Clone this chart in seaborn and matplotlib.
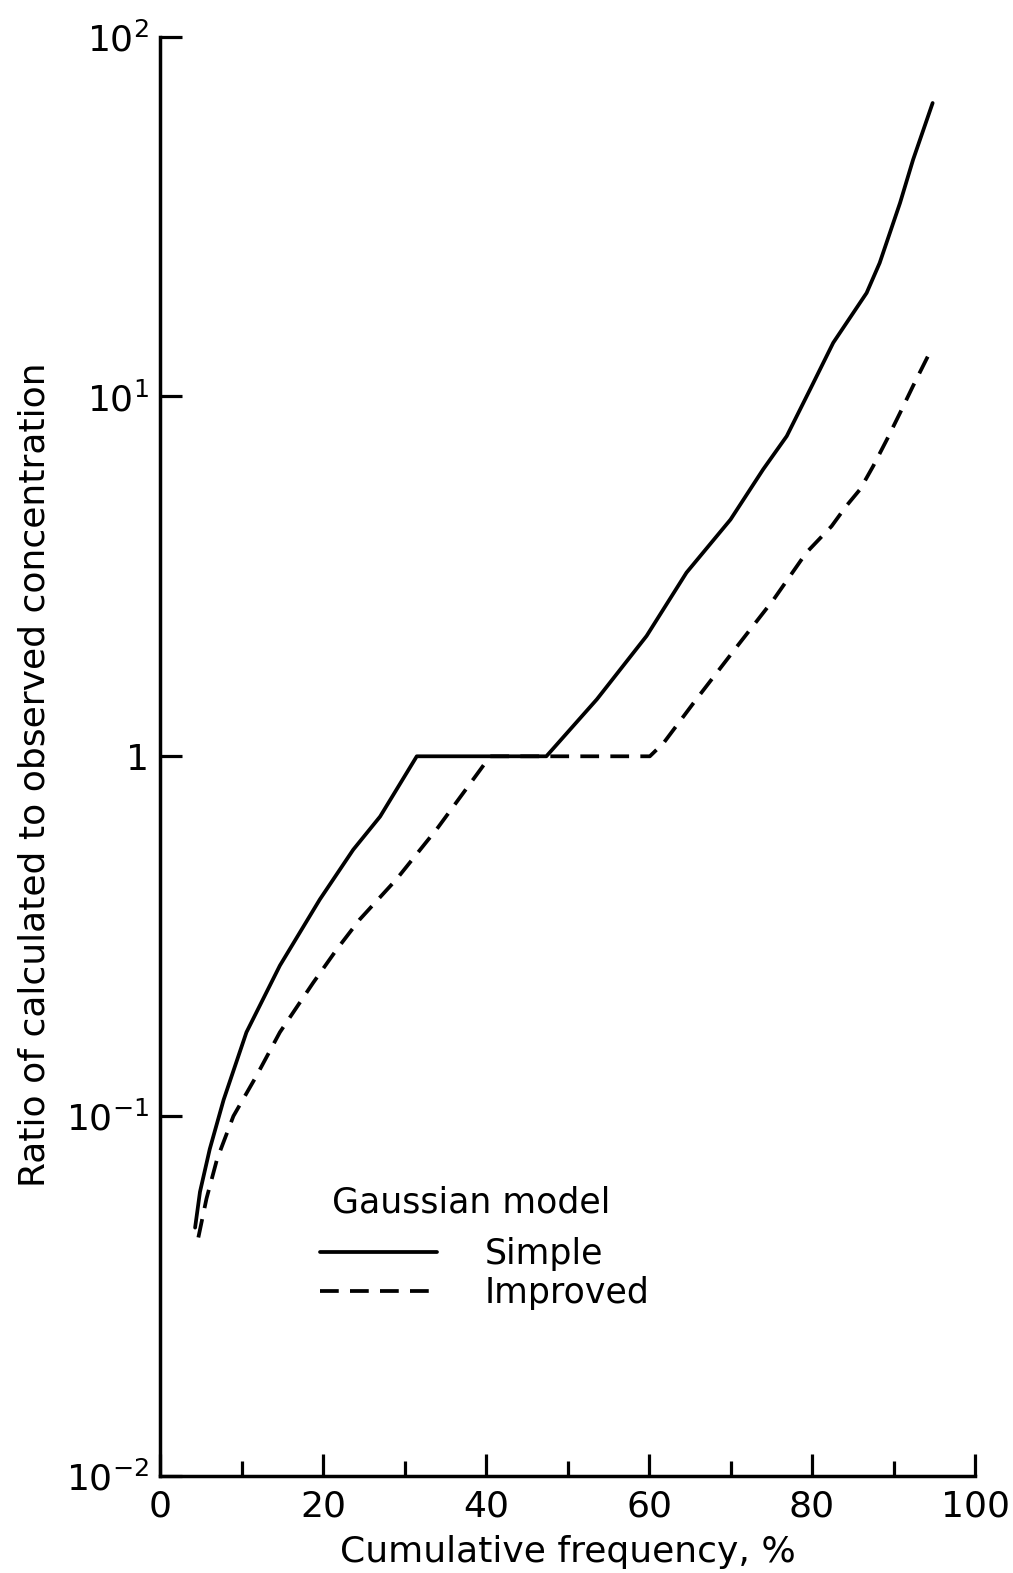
import matplotlib
matplotlib.use("Agg")
import matplotlib.pyplot as plt
import seaborn as sns
import pandas as pd

simple_x = [4.3, 4.9, 6.1, 7.8, 10.6, 14.7, 19.6, 23.7, 27.0, 31.5, 47.4, 53.6, 59.7, 64.6, 70.0,
            74.0, 76.9, 79.8, 82.6, 86.7, 88.3, 90.8, 92.4, 94.8]
simple_y = [0.049, 0.0616, 0.081, 0.111, 0.171, 0.262, 0.40, 0.55, 0.68, 1.0, 1.0, 1.44, 2.16, 3.24, 4.55,
            6.27, 7.76, 10.5, 14.1, 19.4, 23.5, 34.5, 45.5, 65.4]

improved_x = [4.7, 5.7, 7.0, 9.0, 11.8, 14.7, 18.8, 21.7, 24.5, 29.0, 34.1, 40.5, 60.1, 61.8, 65.8,
              70.8, 75.3, 79.3, 82.4, 84.2, 85.9, 87.5, 89.2, 90.8, 92.4, 94.7]
improved_y = [0.046, 0.059, 0.076, 0.10, 0.129, 0.171, 0.235, 0.291, 0.352, 0.455, 0.634, 1.0, 1.0, 1.09, 1.44,
              2.02, 2.73, 3.68, 4.36, 4.96, 5.52, 6.4, 7.6, 9.0, 10.7, 13.6]

series_labels = ["Simple", "Improved"]
legend_title = "Gaussian model"

x_major = [0, 20, 40, 60, 80, 100]
x_major_labels = ["0", "20", "40", "60", "80", "100"]
x_minor = [10, 30, 50, 70, 90]
y_ticks = [0.01, 0.1, 1, 10, 100]
y_tick_labels = [r"$10^{-2}$", r"$10^{-1}$", "1", r"$10^{1}$", r"$10^{2}$"]

sns.set_theme(style="ticks")
plt.rcParams["font.family"] = ["DejaVu Sans"]
plt.rcParams["text.color"] = "black"
plt.rcParams["axes.labelcolor"] = "black"
plt.rcParams["xtick.color"] = "black"
plt.rcParams["ytick.color"] = "black"
plt.rcParams["mathtext.fontset"] = "dejavusans"

fig = plt.figure(figsize=(10.13, 15.73), dpi=100)
ax = fig.add_axes([0.158, 0.0617, 0.8045, 0.915])

df_s = pd.DataFrame({"x": simple_x, "y": simple_y})
df_i = pd.DataFrame({"x": improved_x, "y": improved_y})
sns.lineplot(data=df_s, x="x", y="y", ax=ax, color="black", lw=2.7,
             label=series_labels[0], sort=False)
sns.lineplot(data=df_i, x="x", y="y", ax=ax, color="black", lw=2.7,
             linestyle=(0, (5.0, 3.0)), label=series_labels[1], sort=False)

ax.set_yscale("log")
ax.set_xlim(0, 100)
ax.set_ylim(0.01, 100)
ax.set_xticks(x_major)
ax.set_xticklabels(x_major_labels)
ax.set_xticks(x_minor, minor=True)
ax.set_yticks(y_ticks)
ax.set_yticklabels(y_tick_labels)
ax.yaxis.set_minor_locator(matplotlib.ticker.NullLocator())
ax.tick_params(axis="x", which="major", direction="in", length=16, width=2.3, labelsize=26, pad=10)
ax.tick_params(axis="x", which="minor", direction="in", length=11, width=2.3)
ax.tick_params(axis="y", direction="in", length=16, width=2.3, labelsize=26, pad=8)
for s in ["top", "right"]:
    ax.spines[s].set_visible(False)
for s in ["left", "bottom"]:
    ax.spines[s].set_linewidth(2.5)
    ax.spines[s].set_color("black")

ax.set_xlabel("Cumulative frequency, %", fontsize=26)
ax.xaxis.set_label_coords(0.5, -0.041)
ax.set_ylabel("Ratio of calculated to observed concentration", fontsize=26)
ax.yaxis.set_label_coords(-0.133, 0.487)

leg = ax.legend(loc="upper left", bbox_to_anchor=(0.196, 0.166), borderaxespad=0, borderpad=0,
                frameon=False, fontsize=25, handlelength=3.37, handletextpad=1.38,
                labelspacing=0.15)
ax.text(0.211, 0.190, legend_title, transform=ax.transAxes, fontsize=25,
        ha="left", va="center", color="black")

fig.savefig("out.png", dpi=100, facecolor="white")
